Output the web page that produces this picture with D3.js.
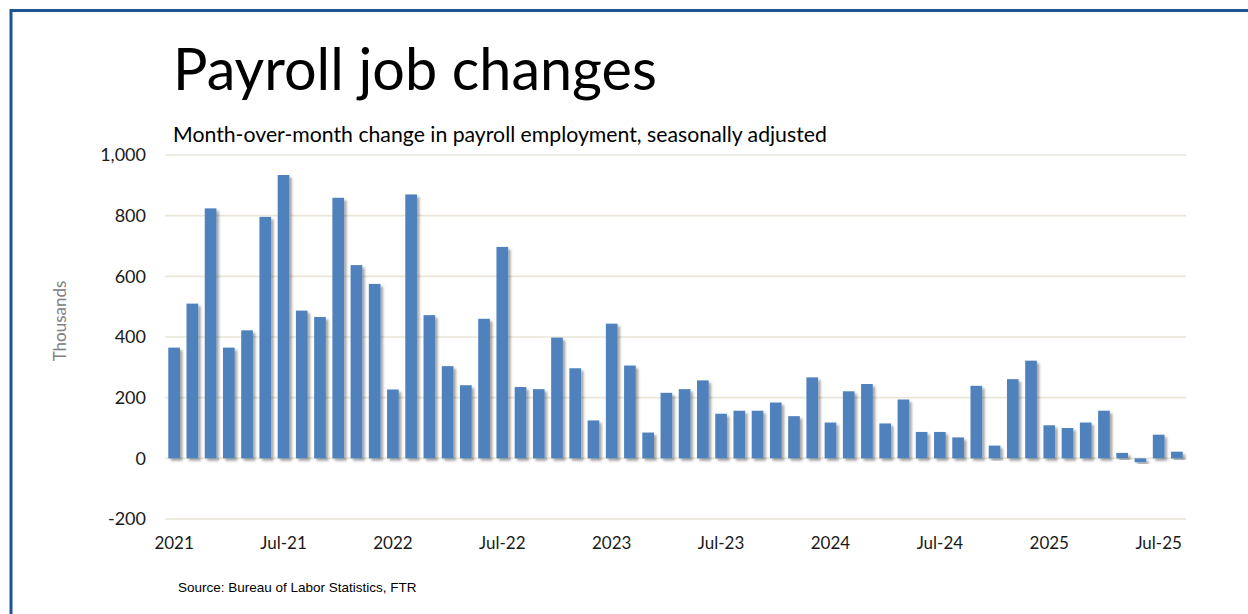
<!DOCTYPE html>
<html>
<head>
<meta charset="utf-8">
<script src="https://cdn.jsdelivr.net/npm/d3@7"></script>
<style>
  html, body { margin: 0; padding: 0; background: #fff; }
  svg { display: block; }
</style>
</head>
<body>
<div id="chart"></div>
<script>
// Payroll job changes - monthly, thousands

const months = [
  'Jan-21', 'Feb-21', 'Mar-21', 'Apr-21', 'May-21', 'Jun-21', 'Jul-21', 'Aug-21', 'Sep-21', 'Oct-21', 'Nov-21', 'Dec-21',
  'Jan-22', 'Feb-22', 'Mar-22', 'Apr-22', 'May-22', 'Jun-22', 'Jul-22', 'Aug-22', 'Sep-22', 'Oct-22', 'Nov-22', 'Dec-22',
  'Jan-23', 'Feb-23', 'Mar-23', 'Apr-23', 'May-23', 'Jun-23', 'Jul-23', 'Aug-23', 'Sep-23', 'Oct-23', 'Nov-23', 'Dec-23',
  'Jan-24', 'Feb-24', 'Mar-24', 'Apr-24', 'May-24', 'Jun-24', 'Jul-24', 'Aug-24', 'Sep-24', 'Oct-24', 'Nov-24', 'Dec-24',
  'Jan-25', 'Feb-25', 'Mar-25', 'Apr-25', 'May-25', 'Jun-25', 'Jul-25', 'Aug-25',
];
const jobChanges = [
  365, 510, 824, 365, 422, 796, 934, 487, 466, 859, 637, 575,
  227, 870, 472, 304, 241, 460, 697, 235, 228, 398, 297, 125,
  444, 306, 85, 216, 228, 257, 147, 157, 157, 184, 139, 267,
  118, 221, 245, 115, 194, 87, 87, 69, 239, 42, 261, 322,
  109, 100, 118, 157, 18, -13, 78, 22,
];
const tickMonths = ['Jan-21', 'Jul-21', 'Jan-22', 'Jul-22', 'Jan-23', 'Jul-23', 'Jan-24', 'Jul-24', 'Jan-25', 'Jul-25'];
const tickLabels = ['2021', 'Jul-21', '2022', 'Jul-22', '2023', 'Jul-23', '2024', 'Jul-24', '2025', 'Jul-25'];
const yTicks = [-200, 0, 200, 400, 600, 800, 1000];
const yTickLabels = ['-200', '0', '200', '400', '600', '800', '1,000'];

const W = 1248;
const H = 614;
const font = 'Lato, "Open Sans", sans-serif';

const svg = d3.select('#chart').append('svg').attr('width', W).attr('height', H);

// drop shadow for bars
svg
  .append('defs')
  .append('filter')
  .attr('id', 'shadow')
  .attr('x', '-50%')
  .attr('y', '-10%')
  .attr('width', '200%')
  .attr('height', '130%')
  .append('feDropShadow')
  .attr('dx', 2.5)
  .attr('dy', 2.5)
  .attr('stdDeviation', 1.3)
  .attr('flood-color', '#000')
  .attr('flood-opacity', 0.35);

// frame
svg
  .append('rect')
  .attr('x', 11)
  .attr('y', 10.5)
  .attr('width', W + 20)
  .attr('height', H + 20)
  .attr('fill', 'none')
  .attr('stroke', '#1d5592')
  .attr('stroke-width', 3);

// scales
const x = d3.scaleBand().domain(months).range([165, 1186]).paddingInner(0.36).paddingOuter(0.18);
const y = d3.scaleLinear().domain([-200, 1000]).range([519, 155]);

// fit a text element to a given width
function fitText(sel, target) {
  const len = sel.node().getComputedTextLength();
  const fs = parseFloat(sel.attr('font-size'));
  sel.attr('font-size', (fs * target) / len);
}

// titles
const title = svg
  .append('text')
  .attr('x', 173)
  .attr('y', 90)
  .attr('font-family', font)
  .attr('font-size', 56)
  .attr('fill', '#000')
  .text('Payroll job changes');
fitText(title, 484);

const subtitle = svg
  .append('text')
  .attr('x', 173)
  .attr('y', 142)
  .attr('font-family', font)
  .attr('font-size', 20)
  .attr('fill', '#000')
  .text('Month-over-month change in payroll employment, seasonally adjusted');
fitText(subtitle, 654);

// gridlines
svg
  .append('g')
  .selectAll('line')
  .data(yTicks)
  .enter()
  .append('line')
  .attr('x1', x.range()[0])
  .attr('x2', x.range()[1])
  .attr('y1', (d) => y(d))
  .attr('y2', (d) => y(d))
  .attr('stroke', '#e9e5d8')
  .attr('stroke-width', 1.6);

// y axis
const yAxis = svg
  .append('g')
  .attr('transform', 'translate(165,0)')
  .call(
    d3
      .axisLeft(y)
      .tickValues(yTicks)
      .tickSize(0)
      .tickPadding(19)
      .tickFormat((d, i) => yTickLabels[i])
  );
yAxis.select('.domain').remove();
yAxis
  .selectAll('text')
  .attr('font-family', font)
  .attr('font-size', 18)
  .attr('fill', '#1a1a1a');

svg
  .append('text')
  .attr('transform', 'translate(66,321) rotate(-90)')
  .attr('text-anchor', 'middle')
  .attr('font-family', font)
  .attr('font-size', 17)
  .attr('fill', '#808080')
  .text('Thousands');

// bars
svg
  .append('g')
  .selectAll('rect')
  .data(jobChanges)
  .enter()
  .append('rect')
  .attr('x', (d, i) => x(months[i]))
  .attr('y', (d) => y(Math.max(0, d)))
  .attr('width', x.bandwidth())
  .attr('height', (d) => Math.abs(y(d) - y(0)))
  .attr('fill', '#4f81bd')
  .attr('filter', 'url(#shadow)');

// x axis labels
const xAxis = svg
  .append('g')
  .attr('transform', 'translate(0,519)')
  .call(
    d3
      .axisBottom(x)
      .tickValues(tickMonths)
      .tickSize(0)
      .tickPadding(18)
      .tickFormat((d, i) => tickLabels[i])
  );
xAxis.select('.domain').remove();
xAxis
  .selectAll('text')
  .attr('font-family', font)
  .attr('font-size', 17)
  .attr('fill', '#1a1a1a');

// source
svg
  .append('text')
  .attr('x', 178)
  .attr('y', 592)
  .attr('font-family', '"Liberation Sans", Arial, sans-serif')
  .attr('font-size', 13.5)
  .attr('fill', '#000')
  .text('Source: Bureau of Labor Statistics, FTR');
</script>
</body>
</html>
